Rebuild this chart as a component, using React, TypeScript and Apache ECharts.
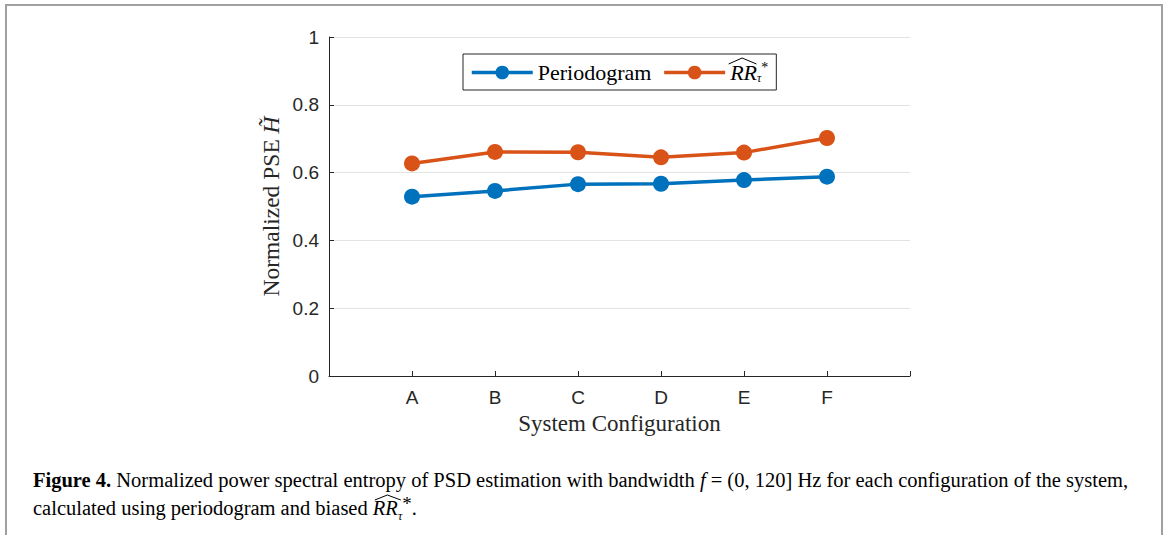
import React, { useEffect, useRef } from "react";
import * as echarts from "echarts";

const categories = ["A", "B", "C", "D", "E", "F"];
const periodogram = [0.529, 0.546, 0.566, 0.567, 0.578, 0.588];
const rrTau = [0.627, 0.661, 0.66, 0.645, 0.659, 0.702];
const yTicks = [0, 0.2, 0.4, 0.6, 0.8, 1];

const BLUE = "#0072BD";
const ORANGE = "#D95319";
const AX = "#262626";
const SERIF = "Liberation Serif";
const CAP_FS = 20.5;
const LEG_FS = 22;

function measure(text: string, font: string): number {
  const c = document.createElement("canvas").getContext("2d")!;
  c.font = font;
  return c.measureText(text).width;
}

export default function App() {
  const ref = useRef<HTMLDivElement>(null);
  useEffect(() => {
    document.body.style.margin = "0";
    const chart = echarts.init(ref.current!, null, { renderer: "svg" });
    const xs = categories.map((_, i) => i + 1);

    // legend layout helpers (for the wide hat over RR)
    const legLeft = 463;
    const legPadL = 7;
    const itemW = 61;
    const textGap = 5;
    const itemGap = 11;
    const perW = measure("Periodogram", `${LEG_FS}px "${SERIF}"`);
    const rrLegW = measure("RR", `italic ${LEG_FS}px "${SERIF}"`);
    const rrLegX = legLeft + legPadL + itemW + textGap + perW + itemGap + itemW + textGap;
    const legCapTop = 65;

    // caption hat
    const capX = 33;
    const prefW = measure("calculated using periodogram and biased ", `${CAP_FS}px "${SERIF}"`);
    const rrCapW = measure("RR", `italic ${CAP_FS}px "${SERIF}"`);
    const rrCapX = capX + prefW;
    const capCapTop = 501;

    chart.setOption({
      animation: false,
      backgroundColor: "#ffffff",
      grid: { left: 329, right: 258, top: 37, bottom: 159, containLabel: false },
      xAxis: {
        type: "value",
        min: 0,
        max: 7,
        interval: 1,
        name: "System Configuration",
        nameLocation: "middle",
        nameGap: 36,
        nameTextStyle: { fontFamily: SERIF, fontSize: 23, color: AX },
        axisLine: { lineStyle: { color: AX, width: 1 } },
        axisTick: { inside: true, length: 5, lineStyle: { color: AX } },
        splitLine: { show: false },
        axisLabel: {
          fontFamily: "Liberation Sans",
          fontSize: 19,
          color: AX,
          margin: 12,
          formatter: (v: number) => (v >= 1 && v <= categories.length ? categories[v - 1] : ""),
        },
      },
      yAxis: {
        type: "value",
        min: yTicks[0],
        max: yTicks[yTicks.length - 1],
        interval: 0.2,
        name: "Normalized PSE {it|H̃}",
        nameLocation: "middle",
        nameGap: 46,
        nameRotate: 90,
        nameTextStyle: {
          fontFamily: SERIF,
          fontSize: 23.5,
          color: AX,
          rich: { it: { fontFamily: SERIF, fontStyle: "italic", fontSize: 23.5, color: AX } },
        },
        axisLine: { show: true, lineStyle: { color: AX, width: 1 } },
        axisTick: { show: true, inside: true, length: 5, lineStyle: { color: AX } },
        splitLine: { show: true, lineStyle: { color: "#e3e3e3", width: 1 } },
        axisLabel: { fontFamily: "Liberation Sans", fontSize: 19, color: AX, margin: 10 },
      },
      legend: {
        left: legLeft,
        top: 54,
        orient: "horizontal",
        backgroundColor: "#ffffff",
        borderColor: AX,
        borderWidth: 1,
        borderRadius: 0,
        padding: [6, 8, 6, legPadL],
        itemWidth: itemW,
        itemHeight: 17,
        itemGap: itemGap,
        lineStyle: { width: 3.5 },
        formatter: (name: string) => (name === "Periodogram" ? "Periodogram" : "{it|RR}{sub|τ}{sup|*}"),
        data: ["Periodogram", "RR"],
        textStyle: {
          fontFamily: SERIF,
          fontSize: LEG_FS,
          color: "#000",
          rich: {
            it: { fontFamily: SERIF, fontStyle: "italic", fontSize: LEG_FS, color: "#000" },
            sub: { fontFamily: SERIF, fontStyle: "italic", fontSize: 12, color: "#000", padding: [11, 0, 0, 0] },
            sup: { fontFamily: SERIF, fontSize: 14, color: "#000", padding: [0, 0, 11, 0] },
          },
        },
      },
      graphic: [
        {
          type: "rect",
          silent: true,
          shape: { x: 6, y: 5, width: 1156, height: 560 },
          style: { fill: "none", stroke: "#a0a0a0", lineWidth: 2 },
        },
        {
          type: "polyline",
          silent: true,
          shape: {
            points: [
              [rrLegX + 2, legCapTop - 1],
              [rrLegX + rrLegW / 2 + 2, legCapTop - 7],
              [rrLegX + rrLegW + 3, legCapTop - 1],
            ],
          },
          style: { fill: "none", stroke: "#000", lineWidth: 1 },
          z: 100,
        },
        {
          type: "polyline",
          silent: true,
          shape: {
            points: [
              [rrCapX + 2, capCapTop - 1],
              [rrCapX + rrCapW / 2 + 2, capCapTop - 6],
              [rrCapX + rrCapW + 3, capCapTop - 1],
            ],
          },
          style: { fill: "none", stroke: "#000", lineWidth: 1 },
          z: 100,
        },
        {
          type: "text",
          left: capX,
          top: 466,
          style: {
            text:
              "{b|Figure 4.} Normalized power spectral entropy of PSD estimation with bandwidth {i|f} = (0, 120] Hz for each configuration of the system,\ncalculated using periodogram and biased {i|RR}{s|τ}{p|*}.",
            fontFamily: SERIF,
            fontSize: CAP_FS,
            lineHeight: 28,
            fill: "#000",
            rich: {
              b: { fontFamily: SERIF, fontWeight: "bold", fontSize: CAP_FS, lineHeight: 28 },
              i: { fontFamily: SERIF, fontStyle: "italic", fontSize: CAP_FS, lineHeight: 28 },
              s: { fontFamily: SERIF, fontStyle: "italic", fontSize: 12, lineHeight: 28, verticalAlign: "bottom" },
              p: { fontFamily: SERIF, fontSize: 19, lineHeight: 28, verticalAlign: "top" },
            },
          },
        },
      ],
      series: [
        {
          name: "Periodogram",
          type: "line",
          data: xs.map((x, i) => [x, periodogram[i]]),
          symbol: "circle",
          symbolSize: 16,
          lineStyle: { color: BLUE, width: 3.5 },
          itemStyle: { color: BLUE },
        },
        {
          name: "RR",
          type: "line",
          data: xs.map((x, i) => [x, rrTau[i]]),
          symbol: "circle",
          symbolSize: 16,
          lineStyle: { color: ORANGE, width: 3.5 },
          itemStyle: { color: ORANGE },
        },
      ],
    });
    return () => chart.dispose();
  }, []);
  return <div ref={ref} style={{ width: 1168, height: 535 }} />;
}
